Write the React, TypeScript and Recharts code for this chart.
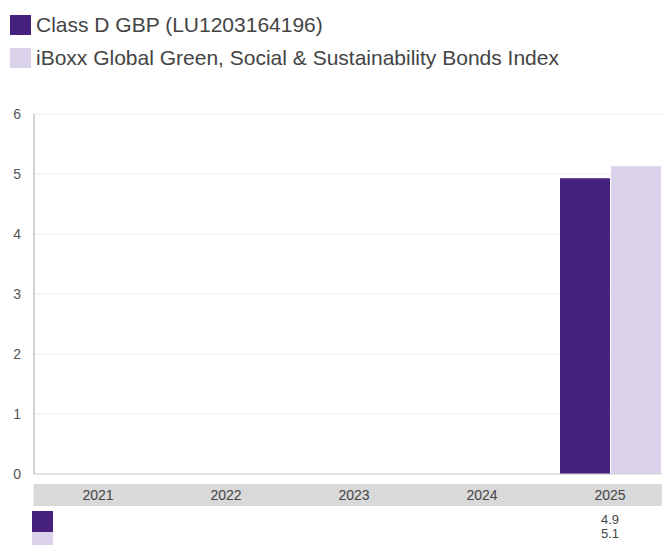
import React from 'react';
import { BarChart, Bar, XAxis, YAxis, CartesianGrid } from 'recharts';

const years = ['2021', '2022', '2023', '2024', '2025'];
const classD = [null, null, null, null, 4.93];
const iboxx = [null, null, null, null, 5.13];
const yTicks = [0, 1, 2, 3, 4, 5, 6];

const seriesNames = ['Class D GBP (LU1203164196)', 'iBoxx Global Green, Social & Sustainability Bonds Index'];
const colors = ['#45207d', '#d9d2e9'];

const data = years.map((year, i) => ({ year, classD: classD[i], iboxx: iboxx[i] }));

const font = 'Arial, "Liberation Sans", sans-serif';

// category band plus the data table values below it
const YearTick = ({ x, y, payload, index }: any) => {
  const band = 129;
  const a = classD[index];
  const b = iboxx[index];
  return (
    <g>
      <rect x={x - band / 2} y={y + 10} width={band} height={22} fill="#d9d9d9" />
      <text x={x} y={y + 21} dy="0.35em" textAnchor="middle" fontSize={14} fill="#444" fontFamily={font}>
        {payload.value}
      </text>
      {a != null && (
        <text x={x} y={y + 45} dy="0.35em" textAnchor="middle" fontSize={13} fill="#444" fontFamily={font}>
          {a.toFixed(1)}
        </text>
      )}
      {b != null && (
        <text x={x} y={y + 59} dy="0.35em" textAnchor="middle" fontSize={13} fill="#444" fontFamily={font}>
          {b.toFixed(1)}
        </text>
      )}
    </g>
  );
};

export default function App() {
  return (
    <div style={{ position: 'relative', width: 662, height: 537, overflow: 'hidden', fontFamily: font }}>
      {/* legend */}
      {seriesNames.map((name, i) => (
        <div
          key={name}
          style={{ position: 'absolute', left: 2, top: 7 + i * 33, height: 20, display: 'flex', alignItems: 'center' }}
        >
          <div style={{ width: 21, height: 20, background: colors[i], marginRight: 5 }} />
          <span style={{ fontSize: 21, color: '#444', whiteSpace: 'nowrap' }}>{name}</span>
        </div>
      ))}

      <BarChart
        width={666}
        height={537}
        data={data}
        margin={{ top: 106, right: 0, bottom: 0, left: 0 }}
        barCategoryGap={14}
        barGap={1}
        style={{ position: 'absolute', left: 0, top: 0 }}
      >
        <CartesianGrid vertical={false} stroke="#ececec" />
        <XAxis
          dataKey="year"
          height={71}
          axisLine={{ stroke: '#d4d4d4' }}
          tickLine={false}
          tickSize={0}
          tickMargin={0}
          interval={0}
          tick={<YearTick />}
        />
        <YAxis
          width={26}
          domain={[0, 6]}
          ticks={yTicks}
          axisLine={{ stroke: '#aaaaaa' }}
          tickLine={false}
          tickSize={0}
          tickMargin={13}
          tick={{ fontSize: 14, fill: '#555', fontFamily: font }}
        />
        <Bar dataKey="classD" fill={colors[0]} isAnimationActive={false} />
        <Bar dataKey="iboxx" fill={colors[1]} isAnimationActive={false} />
      </BarChart>

      {/* table swatches */}
      <div style={{ position: 'absolute', left: 24, top: 503, width: 21, height: 21, background: colors[0] }} />
      <div style={{ position: 'absolute', left: 24, top: 524, width: 21, height: 21, background: colors[1] }} />
    </div>
  );
}
